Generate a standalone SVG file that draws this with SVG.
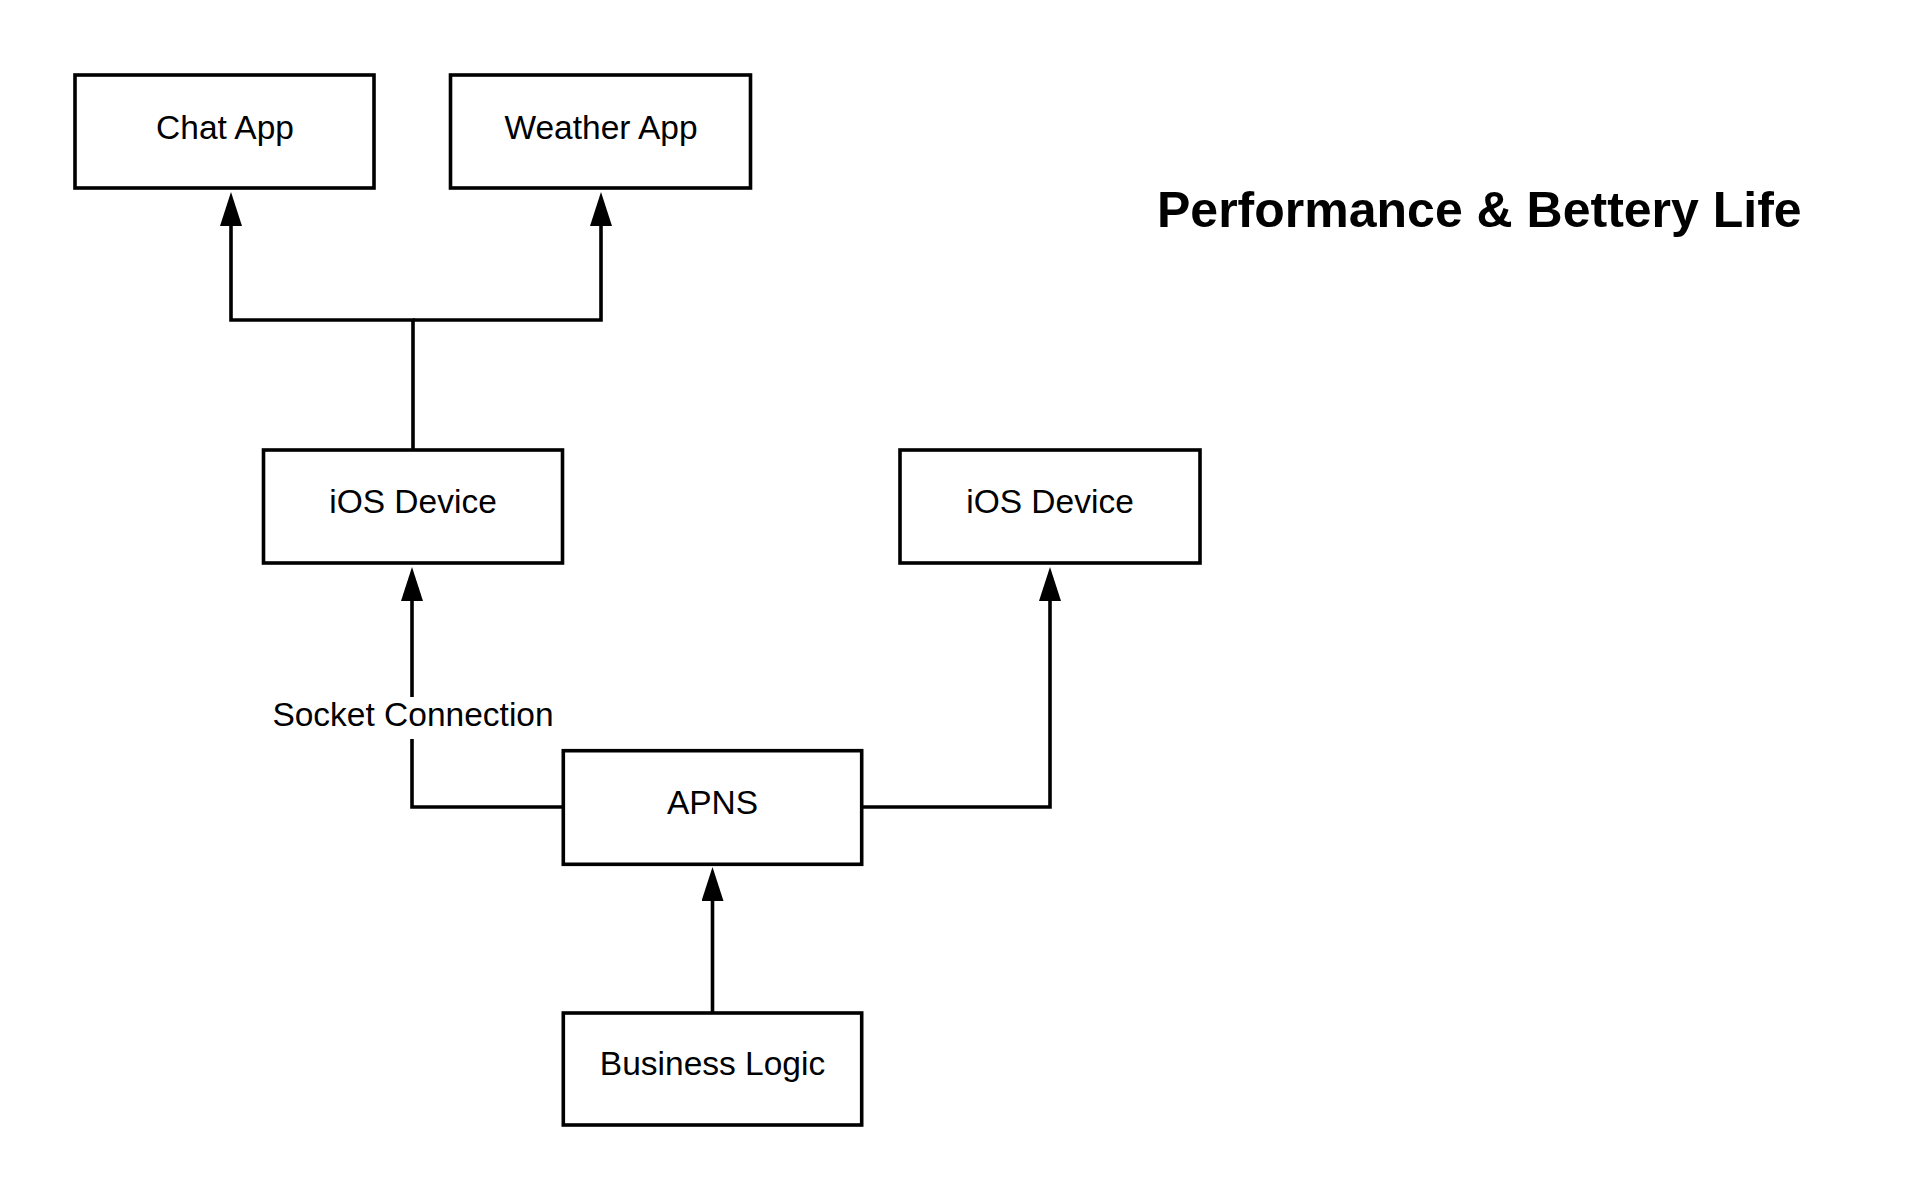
<svg xmlns="http://www.w3.org/2000/svg" width="1913" height="1200" viewBox="0 0 1913 1200">
<style>
.box{fill:#fff;stroke:#000;stroke-width:3.6}
.lbl{font-family:"Liberation Sans",Arial,sans-serif;font-size:33.5px;fill:#000;text-anchor:middle}
.title{font-family:"Liberation Sans",Arial,sans-serif;font-size:50px;font-weight:bold;fill:#000}
.conn{fill:none;stroke:#000;stroke-width:3.6;stroke-linejoin:miter}
</style>
<defs>
<marker id="arr" viewBox="0 -11 34 22" refX="1" refY="0" markerWidth="34" markerHeight="22" markerUnits="userSpaceOnUse" orient="auto">
<path d="M0,-11 L34,0 L0,11 z" fill="#000"/>
</marker>
</defs>
<rect width="1913" height="1200" fill="#fff"/>
<g id="connectors">
<path class="conn" d="M413,450 V320 H231 V225" marker-end="url(#arr)"/>
<path class="conn" d="M413,320 H601 V225" marker-end="url(#arr)"/>
<path class="conn" d="M563,807 H412 V600" marker-end="url(#arr)"/>
<path class="conn" d="M862,807 H1050 V600" marker-end="url(#arr)"/>
<path class="conn" d="M712.5,1013 V900" marker-end="url(#arr)"/>
<rect x="268" y="697" width="290" height="42" fill="#fff"/>
<text class="lbl" x="413" y="726">Socket Connection</text>
</g>
<g id="chat-app">
<rect class="box" x="75" y="75" width="299" height="113"/>
<text class="lbl" x="225" y="139">Chat App</text>
</g>
<g id="weather-app">
<rect class="box" x="450.5" y="75" width="300" height="113"/>
<text class="lbl" x="601" y="139">Weather App</text>
</g>
<g id="ios-device-1">
<rect class="box" x="263.5" y="450" width="299" height="113"/>
<text class="lbl" x="413" y="513">iOS Device</text>
</g>
<g id="ios-device-2">
<rect class="box" x="900" y="450" width="300" height="113"/>
<text class="lbl" x="1050" y="513">iOS Device</text>
</g>
<g id="apns">
<rect class="box" x="563.3" y="750.7" width="298.4" height="113.6"/>
<text class="lbl" x="712.5" y="814">APNS</text>
</g>
<g id="business-logic">
<rect class="box" x="563.3" y="1013" width="298.4" height="112"/>
<text class="lbl" x="712.5" y="1075">Business Logic</text>
</g>
<g id="title">
<text class="title" x="1157" y="227">Performance &amp; Bettery Life</text>
</g>
</svg>
